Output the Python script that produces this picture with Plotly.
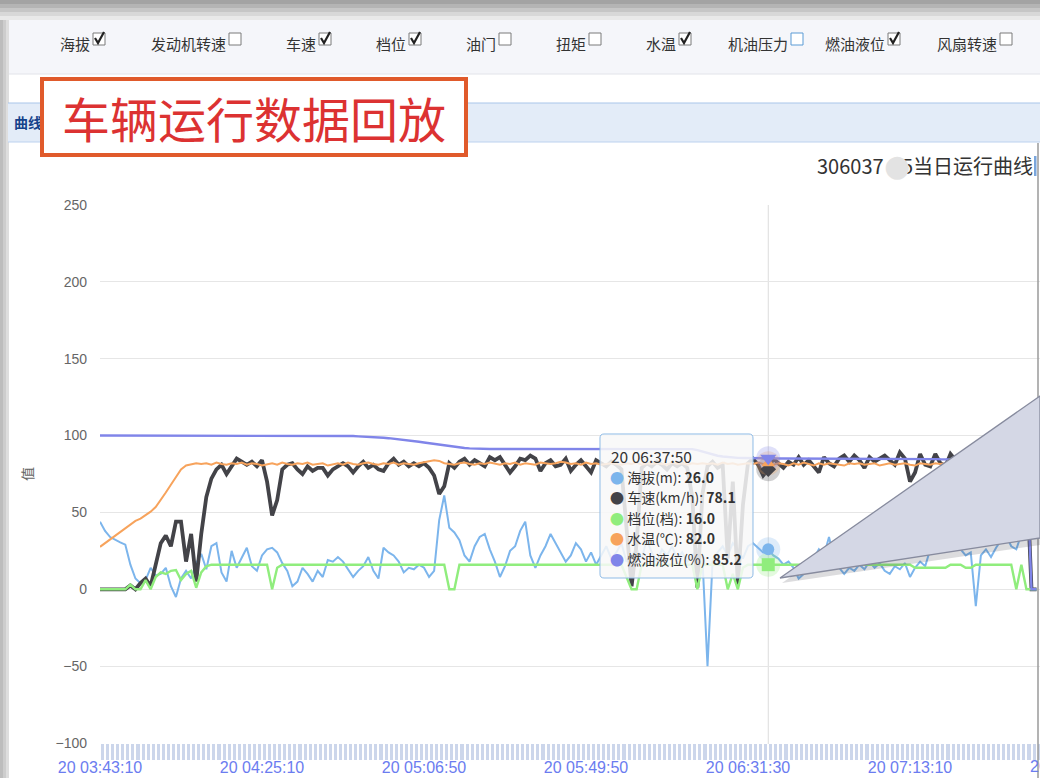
import plotly.graph_objects as go

# ---------------- data ----------------
TICK_LABELS = ["20 03:43:10", "20 04:25:10", "20 05:06:50", "20 05:49:50",
               "20 06:31:30", "20 07:13:10", "20 07:54:50"]
TICK_STEP = 32          # one label every 32 samples

SERIES_NAMES = ["海拔(m)", "车速(km/h)", "档位(档)", "水温(℃)", "燃油液位(%)"]

ALT = [44, 38, 34, 32, 30.5, 29, 16, 7, 4, 6,
       14, 9, 10, 14, 2, -5, 7, 12, 7, 17,
       23, 13, 28, 30, 11, 5, 25, 14, 20, 27,
       15, 12, 22, 26, 27, 24, 17, 12, 2, 5,
       14, 10, 5, 12, 8, 19, 18, 21, 18, 13,
       8, 12, 15, 21, 12, 7, 27, 24, 22, 18,
       11, 14, 13, 16, 14, 8, 12, 45, 61, 40,
       37, 32, 22, 18, 28, 34, 36, 26, 18, 8,
       15, 25, 28, 38, 44, 22, 14, 22, 28, 36,
       30, 24, 18, 22, 30, 26, 18, 24, 16, 22,
       28, 20, 24, 30, 18, 22, 26, 20, 32, 24,
       18, 26, 22, 28, 20, 24, 18, 22, 26, 20,
       -50, 18, 24, 28, 22, 30, 26, 20, 28, 30,
       27, 24, 26, 22, 20, 16, 18, 14, 7, 10,
       12, 20, 26, 22, 34, 20, 14, 10, 14, 12,
       16, 13, 18, 14, 17, 12, 10, 15, 13, 17,
       8, 14, 18, 15, 26, 30, 28, 32, 27, 30,
       26, 22, 24, -11, 22, 26, 21, 27, 32, 35,
       28, 26, 36, 34, 40, 40]

SPEED = [0, 0, 0, 0, 0, 0, 2.5, 0, 4, 7,
         2, 16, 30, 35, 28, 44, 44, 18, 36, 5,
         36, 60, 72, 78, 81, 75, 80, 85, 83, 81,
         83, 80, 84, 70, 48, 58, 78, 81, 82, 78,
         75, 80, 77, 79, 79, 74, 78, 80, 82, 80,
         76, 80, 83, 79, 81, 78, 77, 82, 85, 81,
         83, 80, 82, 80, 82, 79, 74, 62, 67, 82,
         79, 83, 85, 81, 84, 82, 80, 86, 84, 86,
         81, 76, 80, 85, 84, 87, 85, 77, 82, 84,
         80, 81, 85, 77, 81, 84, 80, 76, 84, 82,
         80, 83, 81, 78, 40, 2, 30, 79, 82, 80,
         83, 81, 78, 82, 80, 82, 79, 60, 1, 62,
         80, 83, 79, 81, 20, 70, 3, 55, 82, 85,
         81, 74, 78.1, 85, 82, 79, 83, 81, 86, 81,
         84, 80, 76, 86, 82, 80, 85, 87, 83, 87,
         84, 79, 86, 83, 85, 87, 84, 81, 89, 85,
         70, 76, 88, 81, 80, 88, 82, 80, 88, 84,
         81, 85, 82, 80, 84, 83, 81, 84, 82, 85,
         82, 80, 84, 80, 0, 0]

GEAR = [0, 0, 0, 0, 0, 0, 3, 0, 0, 6,
        0, 8, 11, 10, 12, 12.5, 6, 10, 12, 1,
        11, 15, 16, 16, 16, 16, 16, 16, 16, 16,
        16, 16, 16, 16, 0, 14, 16, 16, 16, 16,
        16, 16, 16, 16, 16, 16, 16, 16, 16, 16,
        16, 16, 16, 16, 16, 16, 16, 16, 16, 16,
        16, 16, 16, 16, 16, 16, 16, 16, 16, 0,
        0, 16, 16, 16, 16, 16, 16, 16, 16, 16,
        16, 16, 16, 16, 16, 16, 16, 16, 16, 16,
        16, 16, 16, 16, 16, 16, 16, 16, 16, 16,
        16, 16, 16, 16, 8, 0, 0, 16, 16, 16,
        16, 16, 16, 16, 16, 16, 16, 16, 0, 16,
        16, 16, 16, 16, 0, 10, 0, 14, 16, 16,
        16, 16, 16, 16, 16, 16, 16, 16, 16, 16,
        16, 16, 16, 16, 16, 16, 16, 16, 16, 16,
        16, 16, 16, 16, 16, 16, 16, 16, 16, 16,
        16, 14, 14, 14, 14, 14, 14, 14, 16, 16,
        16, 14, 14, 16, 16, 16, 16, 16, 16, 16,
        16, 0, 16, 0, 0, 0]

TEMP = [27.6, 30, 32.5, 35, 37.5, 40, 42.5, 44.5, 46, 48,
        50.5, 53.5, 58, 63, 68, 73, 78, 80.5, 81.5, 82,
        81.5, 82, 81, 82.5, 81.5, 81, 82, 81.5, 82.5, 81,
        82, 81.5, 80.5, 81.5, 82, 81, 82.5, 81.5, 81, 82,
        81.5, 82.5, 81, 81.5, 82, 80.5, 81.5, 82, 81, 82.5,
        81.5, 81, 82, 82.5, 81.5, 81, 82, 81.5, 82.5, 81,
        82, 81.5, 81, 82, 82.5, 83, 84, 83.5, 82, 81.5,
        81, 82, 82.5, 81.5, 81, 82, 81.5, 82.5, 81.5, 81,
        82, 81.5, 82.5, 81, 82, 81.5, 81, 82.5, 82, 81.5,
        82, 83, 82.5, 81.5, 82, 81, 82.5, 81.5, 82, 81,
        81.5, 82, 81.5, 81, 82, 81.5, 82.5, 81, 82, 81.5,
        82, 81.5, 81, 82.5, 81.5, 82, 81, 82, 81.5, 82,
        81.5, 82, 81, 82.5, 81.5, 82, 81, 81.5, 82, 81.5,
        82.5, 81.5, 82, 81, 82, 81.5, 80.5, 82, 81, 82.5,
        81.5, 80.5, 82, 81, 82, 81.5, 81, 80.5, 82, 81.5,
        82, 81, 81.5, 82, 80.5, 81.5, 82, 81, 81.5, 82,
        81, 80.5, 82, 81.5, 81, 82, 81.5, 82, 81, 81.5,
        82, 81.5, 81, 82, 81.5, 82, 81, 81.5, 82, 81.5,
        82, 81.5, 81, 82, 81.5, 82]

FUEL = [100, 100, 100, 100, 100, 100, 100, 100, 100, 100,
        100, 100, 100, 100, 100, 100, 100, 100, 100, 100,
        100, 100, 100, 100, 100, 100, 100, 100, 100, 100,
        100, 100, 100, 100, 100, 100, 100, 100, 100, 100,
        100, 100, 100, 100, 100, 100, 100, 100, 100, 99.8,
        99.7, 99.5, 99.4, 99.2, 99, 98.8, 98.6, 98.3, 98, 97.7,
        97.3, 96.9, 96.5, 96, 95.5, 95, 94.5, 94, 93.5, 93,
        92.6, 92.2, 91.9, 91.7, 91.5, 91.4, 91.3, 91.3, 91.3, 91.3,
        91.3, 91.3, 91.3, 91.3, 91.3, 91.3, 91.3, 91.3, 91.3, 91.3,
        91.3, 91.3, 91.3, 91.3, 91.3, 91.3, 91.3, 91.3, 91.3, 91.3,
        91.2, 91.2, 91.2, 91.2, 91.2, 91.2, 91.2, 91.2, 91.2, 91.2,
        91.2, 91.2, 91.2, 91.2, 91.2, 91.2, 91.2, 91.2, 90.5, 89.5,
        88.5, 87.6, 86.9, 86.4, 86, 85.7, 85.5, 85.4, 85.3, 85.3,
        85.2, 85.2, 85.2, 85.2, 85.1, 85.1, 85.1, 85.1, 85.1, 85.1,
        85.1, 85.1, 85.1, 85.1, 85.1, 85.1, 85.1, 85.1, 85.1, 85.1,
        85.0, 85.0, 85.0, 85.0, 85.0, 85.0, 84.9, 84.9, 84.9, 84.9,
        84.8, 84.8, 84.8, 84.7, 84.7, 84.7, 84.6, 84.6, 84.6, 84.5,
        84.5, 84.5, 84.5, 84.5, 84.5, 84.5, 84.5, 84.5, 84.5, 84.5,
        84.5, 84.5, 84.5, 84.5, 0, 0]

HOVER_INDEX = 132
HOVER_TIME = "20 06:37:50"

CHECK_NAMES = ["海拔", "发动机转速", "车速", "档位", "油门", "扭矩",
               "水温", "机油压力", "燃油液位", "风扇转速"]
CHECK_STATE = [1, 0, 1, 1, 0, 0, 1, 0, 1, 0]

PAGE_TITLE = "车辆运行数据回放"
CHART_TITLE_A = "306037"
CHART_TITLE_B = "5当日运行曲线"
PANEL_TITLE = "曲线"
Y_TITLE = "值"

# ---------------- styles / layout geometry ----------------
COLORS = ["#7cb5ec", "#434348", "#90ed7d", "#f7a35c", "#8085e9"]
WIDTHS = [2, 3.8, 2.4, 2, 2.4]
SYMBOLS = ["circle", "diamond", "square", "triangle-up", "triangle-down"]
MSIZES = [12, 12, 13, 12, 14]
CJK = "Noto Sans CJK SC"
XFONT = "Liberation Sans Narrow, Liberation Sans"
W, H = 1040, 778
PL, PR, PT, PB = 100, 1040, 205, 743
PX_PER_SAMPLE = 162 / TICK_STEP
BOX_X = [93, 229, 319, 409, 499, 589, 679, 791, 888, 1000]


def px(x):
    return (x - PL) / (PR - PL)


def py(y):
    return (PB - y) / (PB - PT)


series = [ALT, SPEED, GEAR, TEMP, FUEL]
n = len(ALT)
assert all(len(s) == n for s in series)
xs = list(range(n))

fig = go.Figure()
for name, vals, c, w in zip(SERIES_NAMES, series, COLORS, WIDTHS):
    fig.add_trace(go.Scatter(x=xs, y=vals, mode="lines", name=name,
                             line=dict(color=c, width=w), hoverinfo="skip"))

# hover halo + markers
for vals, c in zip(series, COLORS):
    fig.add_trace(go.Scatter(x=[HOVER_INDEX], y=[vals[HOVER_INDEX]], mode="markers",
                             marker=dict(size=24, color=c, opacity=0.25, symbol="circle"),
                             hoverinfo="skip"))
for vals, c, sym, ms in zip(series, COLORS, SYMBOLS, MSIZES):
    fig.add_trace(go.Scatter(x=[HOVER_INDEX], y=[vals[HOVER_INDEX]], mode="markers",
                             marker=dict(size=ms, color=c, symbol=sym),
                             hoverinfo="skip"))

shapes = []
annotations = []


def rect(x0, y0, x1, y1, fill, line=None, lw=0, layer="above"):
    shapes.append(dict(type="rect", xref="paper", yref="paper",
                       x0=px(x0), x1=px(x1), y0=py(y1), y1=py(y0),
                       fillcolor=fill, layer=layer,
                       line=dict(color=line or "rgba(0,0,0,0)", width=lw)))


def hline(x0, x1, y, color, lw=1, layer="above"):
    shapes.append(dict(type="line", xref="paper", yref="paper",
                       x0=px(x0), x1=px(x1), y0=py(y), y1=py(y),
                       line=dict(color=color, width=lw), layer=layer))


def vline(x, y0, y1, color, lw=1, layer="above"):
    shapes.append(dict(type="line", xref="paper", yref="paper",
                       x0=px(x), x1=px(x), y0=py(y0), y1=py(y1),
                       line=dict(color=color, width=lw), layer=layer))


def path(pts, fill, line, lw, layer="above", close=True):
    d = "M " + " L ".join(f"{px(a):.5f},{py(b):.5f}" for a, b in pts)
    if close:
        d += " Z"
    shapes.append(dict(type="path", xref="paper", yref="paper", path=d,
                       fillcolor=fill, line=dict(color=line, width=lw), layer=layer))


def rrect_path(x0, y0, x1, y1, r):
    def P(a, b):
        return f"{px(a):.5f},{py(b):.5f}"
    return (f"M {P(x0 + r, y0)} L {P(x1 - r, y0)} Q {P(x1, y0)} {P(x1, y0 + r)} "
            f"L {P(x1, y1 - r)} Q {P(x1, y1)} {P(x1 - r, y1)} L {P(x0 + r, y1)} "
            f"Q {P(x0, y1)} {P(x0, y1 - r)} L {P(x0, y0 + r)} Q {P(x0, y0)} {P(x0 + r, y0)} Z")


def ann(text, x, y, size=14, color="#333333", xanchor="left", yanchor="middle",
        family=CJK, **kw):
    annotations.append(dict(text=text, x=px(x), y=py(y), xref="paper", yref="paper",
                            showarrow=False, xanchor=xanchor, yanchor=yanchor,
                            font=dict(size=size, color=color, family=family), **kw))


# --- page chrome ---
for i, c in enumerate(["#a3a3a3", "#b4b4b4", "#c6c6c6", "#d8d8d8", "#e9e9e9"]):
    rect(0, i * 4, W, i * 4 + 4, c)
rect(8, 20, W, 74, "#f5f6fa")
hline(8, W, 74, "#e2e4ea", 1)
for i, c in enumerate(["#bdbdbd", "#cdcdcd", "#dedede"]):
    rect(i * 3, 20, i * 3 + 3, H, c)
rect(8, 103, W, 142, "#e3ecf8")
hline(8, W, 103, "#a9c5e9", 1)
hline(8, W, 142, "#bcd2ef", 1)
vline(1038, 143, H, "#9a9a9a", 1.5)
rect(1034, 156, 1036.5, 176, "#7aa6dc")

# checkboxes
for name, st, bx in zip(CHECK_NAMES, CHECK_STATE, BOX_X):
    edge = "#5b9bd5" if name == "机油压力" else "#7a7a7a"
    rect(bx, 33, bx + 12, 45, "#ffffff", edge, 1)
    if st:
        path([(bx + 2, 38), (bx + 5, 43), (bx + 11, 32)], "rgba(0,0,0,0)", "#222222", 2.2,
             close=False)
    ann(name, bx - 1, 43, size=15, color="#333333", xanchor="right")

# panel header text (partly covered by the red box annotation)
ann("<b>" + PANEL_TITLE + "</b>", 12, 122, size=14, color="#15428b")
annotations.append(dict(text=PAGE_TITLE, x=px(254), y=py(117), xref="paper", yref="paper",
                        showarrow=False, xanchor="center", yanchor="middle",
                        width=420, height=72, borderpad=0, borderwidth=4,
                        bordercolor="#e05a2b", bgcolor="#ffffff", align="center",
                        font=dict(size=48, color="#dc3232", family=CJK)))

# chart title
ann(CHART_TITLE_A, 815, 166, size=20, color="#333333")
ann(CHART_TITLE_B, 1035, 166, size=20, color="#333333", xanchor="right")
ann("●", 897, 166, size=30, color="#e3e3e3", xanchor="center", family="DejaVu Sans")

# x-axis tick band
rect(PL, 744, PR, 760, "#ccd6eb", layer="below")
# crosshair
shapes.append(dict(type="line", xref="x", yref="paper", x0=HOVER_INDEX, x1=HOVER_INDEX,
                   y0=py(760), y1=1, line=dict(color="#dcdcdc", width=1), layer="below"))
# partially visible next tick label
ann(TICK_LABELS[6], PL + 6 * TICK_STEP * PX_PER_SAMPLE, 766, size=16, color="#6b7cf0",
    xanchor="center", family=XFONT)

# tooltip
shapes.append(dict(type="path", xref="paper", yref="paper",
                   path=rrect_path(600, 434, 753, 578, 4),
                   fillcolor="rgba(248,248,248,0.86)", line=dict(color="#8fbbe6", width=1),
                   layer="above"))
ann(HOVER_TIME, 609, 456, size=15.5, color="#333333")
row_y = [477, 497, 518, 538, 559]
for name, vals, c, yy in zip(SERIES_NAMES, series, COLORS, row_y):
    ann(f"<span style='color:{c}'>●</span> {name}: <b>{vals[HOVER_INDEX]:.1f}</b>",
        608, yy, size=14, color="#333333")

# callout triangle (with shadow)
path([(782, 583), (1040, 402), (1040, 545)], "rgba(60,60,70,0.18)", "rgba(0,0,0,0)", 0)
path([(780, 578), (1040, 396), (1040, 538)], "#d4d7e5", "#878b9e", 1.3)

fig.update_layout(
    width=W, height=H,
    margin=dict(l=PL, r=W - PR, t=PT, b=H - PB, autoexpand=False),
    paper_bgcolor="#ffffff", plot_bgcolor="#ffffff",
    showlegend=False, hovermode=False,
    shapes=shapes, annotations=annotations,
    xaxis=dict(range=[0, (PR - PL) / PX_PER_SAMPLE],
               tickmode="array",
               tickvals=[i * TICK_STEP for i in range(len(TICK_LABELS))],
               ticktext=TICK_LABELS,
               ticks="outside", ticklen=10, tickcolor="#ffffff", tickwidth=1.5,
               minor=dict(tickmode="linear", tick0=0, dtick=1, ticks="outside",
                          ticklen=16, tickcolor="#ffffff", tickwidth=1.5, showgrid=False),
               showgrid=False, zeroline=False, showline=False,
               tickfont=dict(size=16, color="#6b7cf0", family=XFONT)),
    yaxis=dict(range=[-100, 250], dtick=50, tick0=0,
               gridcolor="#e6e6e6", gridwidth=1, zeroline=False, showline=False,
               ticks="", ticklabelstandoff=12,
               tickfont=dict(size=14, color="#666666", family="Liberation Sans"),
               title=dict(text=Y_TITLE, standoff=18,
                          font=dict(size=14, color="#666666", family=CJK))),
)

fig.write_html("out.html",
               config={"displayModeBar": False},
               post_script="document.body.style.margin='0';"
                           "document.body.style.overflow='hidden';")
